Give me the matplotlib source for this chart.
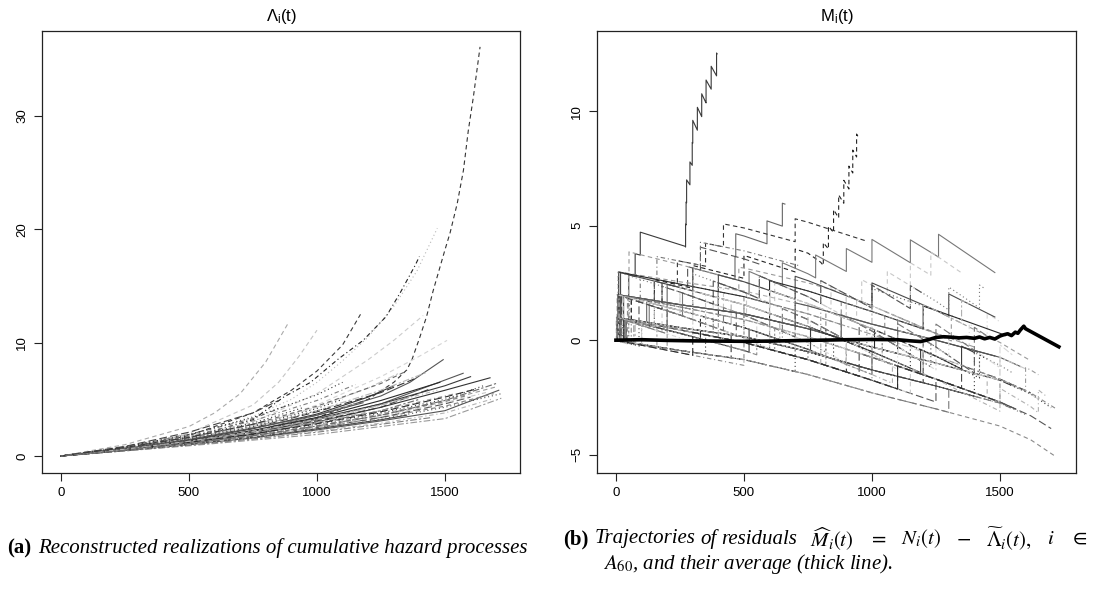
import numpy as np
import matplotlib.pyplot as plt

plt.rcParams['font.family'] = ['Liberation Sans', 'DejaVu Sans']
plt.rcParams['mathtext.fontset'] = 'stix'

# ---------------- panel (a): reconstructed cumulative hazards, (t, value) points
lam_paths = [
    [(0, 0), (250, 0.6), (500, 1.3), (750, 2.2), (1000, 3.4), (1200, 5.0), (1300, 6.5), (1351, 7.6),
     (1371, 8.5), (1402, 10.5), (1428, 12.3), (1454, 14.6), (1500, 18.2), (1520, 19.7), (1548, 22.3),
     (1572, 25.2), (1591, 28.7), (1611, 31.7), (1637, 36.1)],
    [(0, 0), (250, 0.7), (500, 1.8), (750, 3.5), (900, 5.0), (1000, 6.5), (1100, 8.4), (1200, 10.5),
     (1300, 13.2), (1390, 16.3), (1470, 20.1)],
    [(0, 0), (250, 0.6), (500, 1.6), (750, 3.2), (870, 5.2), (975, 6.5), (1080, 8.5), (1180, 10.2),
     (1270, 12.3), (1325, 14.4), (1383, 16.8), (1400, 17.6)],
    [(0, 0), (250, 0.7), (500, 1.8), (750, 3.8), (900, 5.8), (1000, 7.5), (1100, 9.8), (1170, 12.5)],
    [(0, 0), (250, 1.0), (500, 2.6), (600, 3.8), (700, 5.5), (800, 8.3), (887, 11.7)],
    [(0, 0), (250, 0.8), (500, 2.0), (750, 4.5), (850, 6.5), (930, 8.8), (1000, 11.1)],
    [(0, 0), (250, 0.7), (500, 1.6), (750, 3.0), (1000, 5.5), (1200, 8.5), (1300, 10.2), (1415, 12.4)],
    [(0, 0), (250, 0.6), (500, 1.4), (750, 2.6), (1000, 4.5), (1250, 7.0), (1400, 8.8), (1508, 10.2)],
    [(0, 0), (250, 0.5), (500, 1.2), (750, 2.2), (1000, 3.6), (1250, 5.3), (1363, 6.5), (1493, 8.5)],
    [(0, 0), (250, 0.5), (500, 1.1), (750, 1.9), (1000, 3.0), (1250, 4.3), (1500, 5.8), (1676, 6.9)],
    [(0, 0), (250, 0.5), (500, 1.1), (750, 2.0), (1000, 3.2), (1250, 4.6), (1571, 7.3)],
    [(0, 0), (250, 0.45), (500, 0.9), (750, 1.4), (1000, 1.9), (1250, 2.6), (1500, 3.3), (1720, 5.1)],
    [(0, 0), (250, 0.5), (500, 1.0), (750, 1.6), (1000, 2.3), (1250, 3.1), (1500, 4.0), (1710, 5.8)],
    [(0, 0), (250, 0.5), (500, 1.05), (750, 1.7), (1000, 2.5), (1250, 3.4), (1500, 4.4), (1690, 5.5)],
    [(0, 0), (250, 0.55), (500, 1.15), (750, 1.9), (1000, 2.8), (1250, 3.8), (1500, 5.0), (1650, 6.2)],
    [(0, 0), (250, 0.5), (500, 1.0), (750, 1.55), (1000, 2.2), (1250, 2.9), (1500, 3.8), (1680, 5.0)],
    [(0, 0), (250, 0.6), (500, 1.3), (750, 2.1), (1000, 3.1), (1250, 4.3), (1440, 5.9)],
    [(0, 0), (250, 0.55), (500, 1.2), (750, 2.0), (1000, 2.9), (1250, 4.0), (1400, 5.0)],
    [(0, 0), (250, 0.65), (500, 1.4), (750, 2.4), (1000, 3.7), (1200, 5.2), (1300, 6.2)],
    [(0, 0), (250, 0.6), (500, 1.3), (750, 2.3), (1000, 3.6), (1150, 4.6)],
    [(0, 0), (250, 0.7), (500, 1.6), (750, 2.7), (1000, 4.2), (1100, 5.0)],
    [(0, 0), (250, 0.55), (500, 1.2), (750, 2.0), (1000, 3.0), (1250, 4.0), (1540, 5.5)],
    [(0, 0), (250, 0.5), (500, 1.1), (750, 1.75), (1000, 2.5), (1250, 3.4), (1500, 4.6), (1600, 5.2)],
    [(0, 0), (250, 0.45), (500, 0.95), (750, 1.5), (1000, 2.1), (1250, 2.8), (1450, 3.4)],
    [(0, 0), (250, 0.5), (500, 1.05), (750, 1.65), (1000, 2.4), (1250, 3.2), (1350, 3.6)],
    [(0, 0), (250, 0.6), (500, 1.25), (750, 2.0), (1000, 2.95), (1200, 3.9)],
    [(0, 0), (250, 0.75), (500, 1.7), (750, 2.9), (950, 4.3)],
    [(0, 0), (250, 0.8), (500, 1.9), (750, 3.3), (900, 4.6)],
    [(0, 0), (250, 0.65), (500, 1.45), (750, 2.5), (1000, 3.9), (1250, 5.6), (1380, 6.8)],
    [(0, 0), (250, 0.7), (500, 1.55), (750, 2.7), (1000, 4.3), (1200, 6.0), (1320, 7.3)],
    [(0, 0), (250, 0.6), (500, 1.35), (750, 2.25), (1000, 3.4), (1250, 4.9), (1480, 6.5)],
    [(0, 0), (250, 0.55), (500, 1.15), (750, 1.85), (1000, 2.7), (1250, 3.7), (1500, 4.9), (1700, 6.1)],
    [(0, 0), (250, 0.5), (500, 1.0), (750, 1.6), (1000, 2.35), (1250, 3.25), (1500, 4.3), (1720, 5.5)],
    [(0, 0), (250, 0.75), (500, 1.75), (750, 3.1), (1000, 4.9), (1150, 6.3)],
    [(0, 0), (250, 0.85), (500, 2.1), (750, 3.8), (850, 4.9)],
    [(0, 0), (250, 0.65), (500, 1.5), (750, 2.55), (1000, 4.0), (1250, 5.8), (1430, 7.4)],
    [(0, 0), (250, 0.6), (500, 1.3), (750, 2.2), (1000, 3.3), (1250, 4.6), (1500, 6.2), (1600, 7.0)],
    [(0, 0), (250, 0.7), (500, 1.6), (750, 2.8), (1000, 4.4), (1250, 6.4), (1350, 7.5)],
    [(0, 0), (250, 0.8), (500, 1.9), (750, 3.4), (1000, 5.4), (1100, 6.5)],
    [(0, 0), (250, 0.5), (500, 1.05), (750, 1.7), (1000, 2.5), (1250, 3.5), (1500, 4.7), (1660, 5.6)],
    [(0, 0), (250, 0.55), (500, 1.2), (750, 1.95), (1000, 2.85), (1250, 3.9), (1500, 5.2), (1620, 5.9)],
    [(0, 0), (250, 0.6), (500, 1.3), (750, 2.15), (1000, 3.2), (1250, 4.5), (1360, 5.2)],
    [(0, 0), (250, 0.65), (500, 1.45), (750, 2.45), (1000, 3.6), (1180, 4.7)],
    [(0, 0), (250, 0.55), (500, 1.1), (750, 1.8), (1000, 2.6), (1250, 3.6), (1500, 4.8), (1580, 5.3)],
    [(0, 0), (250, 0.7), (500, 1.5), (750, 2.6), (1000, 4.0), (1050, 4.3)],
    [(0, 0), (250, 0.6), (500, 1.3), (750, 2.2), (1000, 3.25), (1250, 4.5), (1470, 5.8)],
    [(0, 0), (250, 0.75), (500, 1.65), (750, 2.8), (800, 3.1)],
    [(0, 0), (250, 0.5), (500, 1.1), (750, 1.8), (1000, 2.65), (1250, 3.6), (1500, 4.9), (1700, 6.4)],
]

# ---------------- panel (b): compensators, end of follow-up and event times of each subject
comp_grid = [0, 250, 500, 750, 1000, 1250, 1500, 1620, 1720]
comp_times = [comp_grid, comp_grid, comp_grid, comp_grid,
              [0, 100, 270, 300, 350, 400],
              [0, 250, 500, 750, 800, 850, 900, 950]]
comp_values = [
    [0, 0.45, 0.85, 1.5, 2.3, 3.0, 3.75, 4.35, 5.1],
    [0, 0.55, 1.1, 1.85, 2.75, 3.7, 4.7, 5.3, 6.0],
    [0, 0.7, 1.45, 2.4, 3.5, 4.7, 6.1, 6.9, 7.8],
    [0, 0.9, 1.9, 3.1, 4.6, 6.3, 8.2, 9.3, 10.5],
    [0, 0.3, 0.9, 1.4, 2.6, 3.6],
    [0, 0.6, 1.3, 2.2, 2.6, 3.3, 4.2, 5.2],
]

res_comp = [4, 5, 2, 1, 2, 1, 0,
            0, 0, 0, 1, 0, 1, 0, 1, 0, 1, 1, 0, 1, 0, 1, 0, 1, 0, 1, 0, 1, 0, 1, 0, 1, 0, 0, 1, 0, 0,
            2, 2, 3, 2, 3, 2, 2, 3, 2, 3, 2, 3, 3, 2, 3, 2,
            1, 2, 0, 1, 2, 3, 0, 1, 2, 0, 1, 3, 2, 0, 1, 3, 2, 1]
res_end = [395, 950, 660, 980, 560, 720, 870,
           1720, 1600, 1500, 1450, 1650, 1560, 1200, 1100, 1450, 1700, 900, 1350, 1500, 800, 1250,
           1560, 1050, 1400, 1600, 1300, 1720, 1540, 1380, 1480, 1300, 1700, 1000, 1620, 1150, 1580,
           1300, 1550, 1000, 1250, 1550, 1400, 1620, 1300, 1680, 1420, 1150, 1480, 1350, 1450, 1500, 700,
           1400, 1480, 1250, 1350, 1200, 1450, 1600, 1520, 1050, 950, 1650, 1200, 1380, 1100, 1280,
           1440, 900, 1480]
res_events = [
    [15, 30, 50, 75, 95, 272, 274, 276, 289, 298, 300, 318, 335, 352, 372, 393],
    [20, 60, 150, 300, 500, 700, 810, 830, 850, 870, 890, 910, 925, 940],
    [8, 120, 200, 300, 465, 468, 590, 650],
    [30, 60, 180, 240, 350, 420, 700],
    [10, 90, 150, 280, 330],
    [20, 50, 95, 160, 330],
    [2, 5, 9, 480],
    [], [5], [10, 700], [3, 900], [20, 800], [30, 1100], [200, 900], [90, 750], [60], [12, 1250],
    [7, 620], [15, 1000], [100, 1150], [350], [2, 550], [450, 1200], [160, 820], [35],
    [10, 800, 1450], [25, 500], [500, 1000, 1500], [1300], [40, 600, 1000], [15, 20, 1100],
    [8, 300], [700, 1400], [], [4, 950, 1350], [75, 640], [12, 18, 880],
    [2, 6, 300, 820, 1050],
    [8, 350, 650, 980, 1400],
    [10, 25, 250, 420, 700, 940],
    [5, 330, 600, 1010],
    [3, 8, 380, 760, 1040, 1250, 1420, 1500],
    [40, 520, 760, 1190, 1350],
    [45, 47, 49, 51, 900, 1310],
    [25, 150, 600, 820, 1040, 1230],
    [20, 500, 1080, 1500, 1650],
    [5, 10, 470, 700, 950, 1200, 1400],
    [70, 550, 1000],
    [18, 130, 260, 400, 520, 650, 780, 900, 1000, 1150, 1260],
    [50, 180, 300, 510, 620, 840, 960, 1060, 1150, 1230],
    [100, 380, 850, 1150, 1420],
    [30, 300, 600, 900, 1100, 1200, 1300, 1380, 1450],
    [30, 200, 400, 600],
    [20, 22, 600, 1100],
    [10, 14, 18, 400, 700, 1000, 1300],
    [3, 6, 400],
    [50, 52, 300, 700, 1000],
    [15, 200, 500, 800, 1100],
    [12, 200, 420, 650, 880, 1100, 1250, 1400],
    [100, 900, 1500],
    [5, 8, 11, 600, 1200],
    [25, 28, 250, 600, 900],
    [30],
    [60, 400, 1200, 1600],
    [20, 22, 180, 380, 560, 800, 1000, 1150],
    [5, 150, 450, 750, 1000, 1200, 1350],
    [8, 12, 700],
    [40, 45, 500, 880],
    [3, 6, 9, 300, 560, 800, 1000, 1150, 1300, 1420],
    [10, 12, 350, 600],
    [300, 1100],
]

# average of the residuals (thick line)
avg_t = [0, 100, 200, 300, 400, 500, 600, 700, 800, 900, 1000, 1100, 1150, 1190, 1220, 1250, 1280,
         1310, 1340, 1370, 1400, 1420, 1440, 1460, 1480, 1500, 1510, 1530, 1545, 1560, 1570, 1580,
         1593, 1600, 1730]
avg_v = [0, 0.02, -0.01, -0.03, -0.04, -0.05, -0.04, -0.02, 0.0, 0.02, 0.03, 0.02, -0.03, -0.06,
         0.02, 0.12, 0.15, 0.13, 0.1, 0.12, 0.08, 0.14, 0.06, 0.12, 0.05, 0.18, 0.22, 0.28, 0.2,
         0.35, 0.3, 0.45, 0.61, 0.5, -0.29]

line_styles = ['-', (0, (4, 3)), (0, (1, 2.5)), (0, (1, 2.5, 4, 2.5)), (0, (7, 3)), (0, (2, 2, 6, 2))]
grays_left = ['#2a2a2a', '#6a6a6a', '#444444', '#9a9a9a', '#333333', '#b5b5b5', '#555555',
              '#c8c8c8', '#3a3a3a', '#808080']
grays_right = ['#2a2a2a', '#9a9a9a', '#555555', '#c8c8c8', '#3a3a3a', '#b0b0b0', '#777777',
               '#d8d8d8', '#4a4a4a', '#8a8a8a']
# explicit looks for the curves that stand out in the picture
lam_look = {0: (1, '#333333'), 1: (2, '#b8b8b8'), 2: (3, '#222222'), 3: (1, '#3a3a3a'),
            4: (1, '#aaaaaa'), 5: (1, '#c4c4c4'), 6: (1, '#cccccc'), 7: (1, '#d4d4d4'),
            8: (0, '#555555'), 9: (0, '#333333'), 10: (0, '#555555')}
res_look = {0: (0, '#3a3a3a'), 1: (1, '#222222'), 2: (0, '#666666'), 3: (1, '#333333'),
            4: (4, '#555555'), 5: (3, '#777777'), 6: (1, '#999999')}


def residual_path(ct, cv, end, events):
    ev = sorted(e for e in events if e <= end)
    knots = sorted(set([t for t in ct if t < end] + [end] + ev))
    xs, ys = [], []
    n = 0
    for t in knots:
        c = np.interp(t, ct, cv)
        xs.append(t)
        ys.append(n - c)
        k = ev.count(t)
        if k:
            n += k
            xs.append(t)
            ys.append(n - c)
    return xs, ys


def style_axes(ax):
    for s in ax.spines.values():
        s.set_color('#222222')
        s.set_linewidth(0.9)
    ax.tick_params(length=6, width=0.8, labelsize=9.5, pad=4, color='#222222')
    ax.tick_params(axis='y', labelrotation=90)
    plt.setp(ax.get_yticklabels(), va='center')


fig = plt.figure(figsize=(10.94, 5.92), dpi=100)
W, H = 1094, 592
ax1 = fig.add_axes([42 / W, 1 - 473 / H, 478 / W, 442 / H])
ax2 = fig.add_axes([597 / W, 1 - 473 / H, 479 / W, 442 / H])

for i, path in enumerate(lam_paths):
    t, v = zip(*path)
    lty, col = lam_look.get(i, (i % len(line_styles), grays_left[(i * 3) % len(grays_left)]))
    ax1.plot(t, v, color=col, lw=0.8, linestyle=line_styles[lty])
ax1.set_xlim(-74, 1793)
ax1.set_ylim(-1.5, 37.5)
ax1.set_xticks([0, 500, 1000, 1500])
ax1.set_yticks([0, 10, 20, 30])
ax1.set_title(r'$\mathregular{\Lambda_i(t)}$', fontsize=12, pad=7)
style_axes(ax1)

for i in range(len(res_end)):
    c = res_comp[i]
    x, y = residual_path(comp_times[c], comp_values[c], res_end[i], res_events[i])
    lty, col = res_look.get(i, (i % len(line_styles), grays_right[(i * 7) % len(grays_right)]))
    ax2.plot(x, y, color=col, lw=0.8, linestyle=line_styles[lty])
ax2.plot(avg_t, avg_v, color='black', lw=2.6, solid_joinstyle='round')
ax2.set_xlim(-74, 1797)
ax2.set_ylim(-5.8, 13.5)
ax2.set_xticks([0, 500, 1000, 1500])
ax2.set_yticks([-5, 0, 5, 10])
ax2.set_title(r'$\mathregular{M_i(t)}$', fontsize=12, pad=7)
style_axes(ax2)

# captions
cap = dict(family='Liberation Serif', fontsize=15, va='center')
fig.text(7 / W, 1 - 548 / H, '(a)', weight='bold', **cap)
fig.text(38 / W, 1 - 548 / H, 'Reconstructed realizations of cumulative hazard processes',
         style='italic', **cap)

# first caption line of (b) is justified between x=563 and x=1087;
# word gaps stretch a little, gaps around the formula stretch more
pieces = [('(b)', {'weight': 'bold'}), ('Trajectories', {'style': 'italic'}),
          ('of', {'style': 'italic'}), ('residuals', {'style': 'italic'}),
          (r'$\widehat{M}_i(t)$', {}), (r'$=$', {}), (r'$N_i(t)$', {}), (r'$-$', {}),
          (r'$\widetilde{\Lambda}_i(t),$', {}), (r'$i$', {}), (r'$\in$', {})]
gap_weight = [1.2, 1, 1, 2.5, 3, 3, 3, 3, 3, 3]
y1 = 1 - 539 / H
texts = [fig.text(0, y1, s, **cap, **kw) for s, kw in pieces]
renderer = fig.canvas.get_renderer()
widths = [t.get_window_extent(renderer).width for t in texts]
unit = (1087 - 563 - sum(widths)) / sum(gap_weight)
x = 563
for k, (t, w) in enumerate(zip(texts, widths)):
    t.set_x(x / W)
    if k < len(gap_weight):
        x += w + unit * gap_weight[k]
fig.text(603 / W, 1 - 564 / H, r'$A_{60}$, and their average (thick line).', style='italic', **cap)

fig.savefig('out.png', dpi=100)
